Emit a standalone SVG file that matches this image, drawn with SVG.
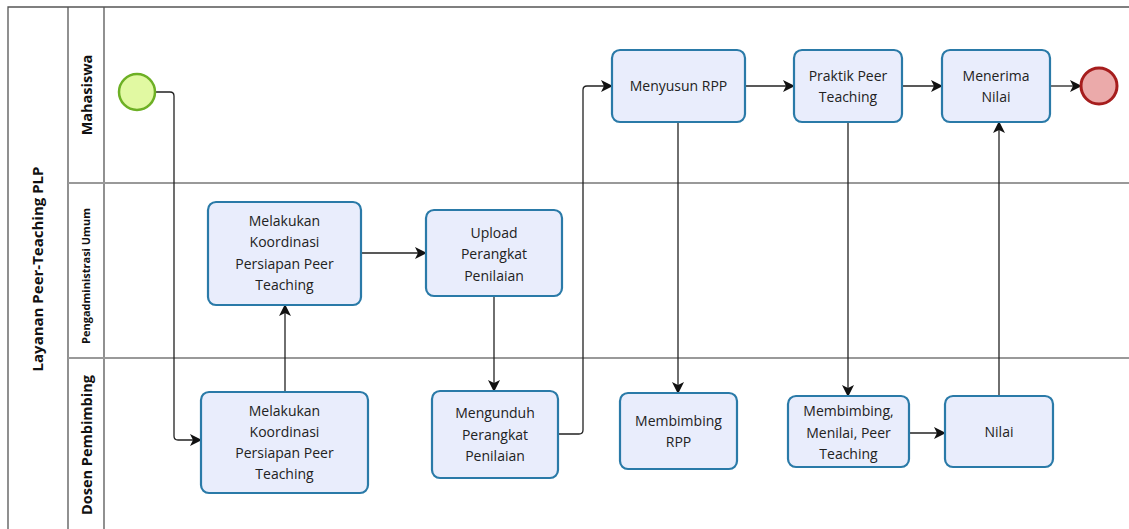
<svg xmlns="http://www.w3.org/2000/svg" width="1129" height="529" viewBox="0 0 1129 529">
<defs>
<style>
.lane{fill:none;stroke:#555;stroke-width:1.3}
.lsep{fill:none;stroke:#999;stroke-width:2}
.task rect{fill:#e9edfc;stroke:#2a7aa8;stroke-width:2.2}
.task text,.lbl{font-family:"Open Sans","DejaVu Sans",sans-serif;font-size:14px;fill:#222;text-anchor:middle}
.hdr{font-family:"Open Sans","DejaVu Sans",sans-serif;font-weight:bold;fill:#111;text-anchor:middle}
.conn path{fill:none;stroke:#222;stroke-width:1.3;marker-end:url(#arr)}
</style>
<marker id="arr" viewBox="0 0 12 12" refX="11" refY="6" markerWidth="12" markerHeight="12" markerUnits="userSpaceOnUse" orient="auto">
<path d="M0,0 L12,6 L0,12 L3,6 z" fill="#111"/>
</marker>
</defs>
<rect x="0" y="0" width="1129" height="529" fill="#fff"/>
<g id="pool">
<path class="lane" d="M1129,7 H8 V529"/>
<line class="lane" x1="68" y1="7" x2="68" y2="529"/>
<line class="lane" x1="104" y1="7" x2="104" y2="529"/>
<line class="lsep" x1="68" y1="183" x2="1129" y2="183"/>
<line class="lsep" x1="68" y1="358" x2="1129" y2="358"/>
<text class="hdr" font-size="15" transform="translate(43,269) rotate(-90)">Layanan Peer-Teaching PLP</text>
<text class="hdr" font-size="14.5" transform="translate(92,95) rotate(-90)">Mahasiswa</text>
<text class="hdr" font-size="11" transform="translate(90,276) rotate(-90)">Pengadministrasi Umum</text>
<text class="hdr" font-size="14.5" transform="translate(92,445) rotate(-90)">Dosen Pembimbing</text>
</g>
<g class="conn" id="connectors">
<path d="M155,92 H170 Q174,92 174,96 V436 Q174,440 178,440 H201"/>
<path d="M285,392 V305"/>
<path d="M361,253 H426"/>
<path d="M494,296 V391"/>
<path d="M558,434 H579 Q583,434 583,430 V90 Q583,86 587,86 H612"/>
<path d="M745,86 H794"/>
<path d="M678,122 V393"/>
<path d="M848,122 V396"/>
<path d="M902,86 H942"/>
<path d="M909,433 H945"/>
<path d="M999,396 V122"/>
<path d="M1050,86 H1081"/>
</g>
<g id="start"><circle cx="137" cy="92" r="18" fill="#e1f9a2" stroke="#6db025" stroke-width="2.5"/></g>
<g id="end"><circle cx="1099" cy="86" r="18" fill="#ebaaaa" stroke="#a61d1d" stroke-width="3"/></g>
<g class="task" id="menyusun"><rect x="612" y="50" width="133" height="72" rx="8"/><text x="678.5" y="91">Menyusun RPP</text></g>
<g class="task" id="praktik"><rect x="794" y="50" width="108" height="72" rx="8"/><text x="848" y="81">Praktik Peer</text><text x="848" y="102">Teaching</text></g>
<g class="task" id="menerima"><rect x="942" y="50" width="108" height="72" rx="8"/><text x="996" y="81">Menerima</text><text x="996" y="102">Nilai</text></g>
<g class="task" id="koord-pa"><rect x="208" y="202" width="153" height="103" rx="8"/><text x="284.5" y="226">Melakukan</text><text x="284.5" y="247">Koordinasi</text><text x="284.5" y="269">Persiapan Peer</text><text x="284.5" y="290">Teaching</text></g>
<g class="task" id="upload"><rect x="426" y="210" width="136" height="86" rx="8"/><text x="494" y="238">Upload</text><text x="494" y="259">Perangkat</text><text x="494" y="281">Penilaian</text></g>
<g class="task" id="koord-dosen"><rect x="201" y="392" width="167" height="101" rx="8"/><text x="284.5" y="416">Melakukan</text><text x="284.5" y="437">Koordinasi</text><text x="284.5" y="458">Persiapan Peer</text><text x="284.5" y="479">Teaching</text></g>
<g class="task" id="mengunduh"><rect x="432" y="391" width="126" height="87" rx="8"/><text x="495" y="418">Mengunduh</text><text x="495" y="440">Perangkat</text><text x="495" y="461">Penilaian</text></g>
<g class="task" id="membimbing-rpp"><rect x="620" y="393" width="117" height="76" rx="8"/><text x="678.5" y="426">Membimbing</text><text x="678.5" y="447">RPP</text></g>
<g class="task" id="membimbing-menilai"><rect x="788" y="396" width="121" height="71" rx="8"/><text x="848.5" y="416">Membimbing,</text><text x="848.5" y="438">Menilai, Peer</text><text x="848.5" y="459">Teaching</text></g>
<g class="task" id="nilai"><rect x="945" y="396" width="108" height="71" rx="8"/><text x="999" y="437">Nilai</text></g>
</svg>
